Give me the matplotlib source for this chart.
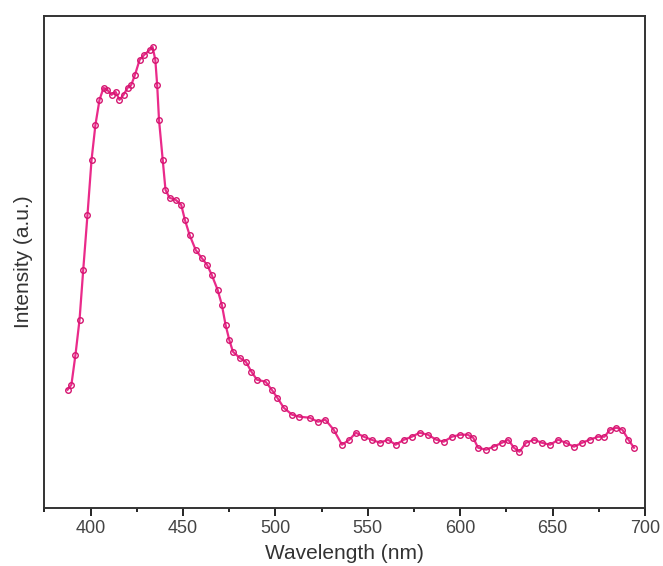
import matplotlib
matplotlib.use("Agg")
import numpy as np
import matplotlib.pyplot as plt
from matplotlib.ticker import MultipleLocator, NullLocator

plt.rcParams["font.family"] = ["Liberation Sans", "DejaVu Sans"]

# Emission spectrum (intensity in arbitrary units)
wavelength = [387.5, 389.6, 391.8, 394.0, 396.0, 398.3, 400.5, 402.6, 404.8, 407.0,
              409.0, 411.3, 413.5, 415.6, 417.8, 420.0, 422.0, 424.0, 426.5, 429.0,
              432.0, 433.5, 435.0, 436.0, 437.0, 439.0, 440.5, 442.7, 446.0, 449.0,
              451.0, 453.5, 456.8, 460.0, 463.0, 465.5, 468.7, 471.0, 473.0, 475.0,
              477.0, 480.6, 484.0, 487.0, 490.0, 494.7, 498.0, 501.0, 504.5, 509.0,
              513.0, 518.5, 523.0, 527.0, 531.5, 536.0, 540.0, 543.5, 547.8, 552.0,
              556.5, 561.0, 565.0, 569.5, 573.8, 578.0, 582.5, 587.0, 591.0, 595.5,
              600.0, 604.0, 607.0, 609.6, 614.0, 618.0, 622.6, 626.0, 629.0, 632.0,
              635.6, 640.0, 644.0, 648.6, 653.0, 657.0, 661.5, 666.0, 670.0, 674.6,
              678.0, 681.0, 684.5, 687.7, 691.0, 694.0]
intensity = [118, 123, 153, 188, 238, 293, 348, 383, 408, 420,
             418, 413, 416, 408, 413, 420, 423, 433, 448, 453,
             458, 461, 448, 423, 388, 348, 318, 310, 308, 303,
             288, 273, 258, 250, 243, 233, 218, 203, 183, 168,
             156, 150, 146, 136, 128, 126, 118, 110, 100, 93,
             91, 90, 86, 88, 78, 63, 68, 75, 71, 68,
             65, 68, 63, 68, 71, 75, 73, 68, 66, 71,
             73, 73, 70, 60, 58, 61, 65, 68, 60, 56,
             65, 68, 65, 63, 68, 65, 61, 65, 68, 71,
             71, 78, 80, 78, 68, 60]

pink = "#ea2a8a"

fig = plt.figure(figsize=(6.63, 5.66), dpi=100)
ax = fig.add_axes([0.067, 0.103, 0.906, 0.869])

ax.plot(wavelength, intensity, color=pink, lw=1.6, marker="o", ms=4,
        mfc="none", mec="#d41670", mew=1.0)

ax.set_xlim(375, 700)
ax.set_ylim(0, 492)
ax.xaxis.set_major_locator(MultipleLocator(50))
ax.xaxis.set_minor_locator(MultipleLocator(25))
ax.yaxis.set_major_locator(NullLocator())
ax.tick_params(axis="x", which="major", direction="out", length=6, width=1.2,
               labelsize=13, labelcolor="#444444", pad=3)
ax.tick_params(axis="x", which="minor", direction="out", length=3, width=1.2)

for sp in ax.spines.values():
    sp.set_linewidth(1.4)
    sp.set_color("#333333")

ax.set_xlabel("Wavelength (nm)", fontsize=15, color="#333333", labelpad=5)
ax.set_ylabel("Intensity (a.u.)", fontsize=15, color="#333333", labelpad=8)

fig.savefig("out.png", dpi=100)
